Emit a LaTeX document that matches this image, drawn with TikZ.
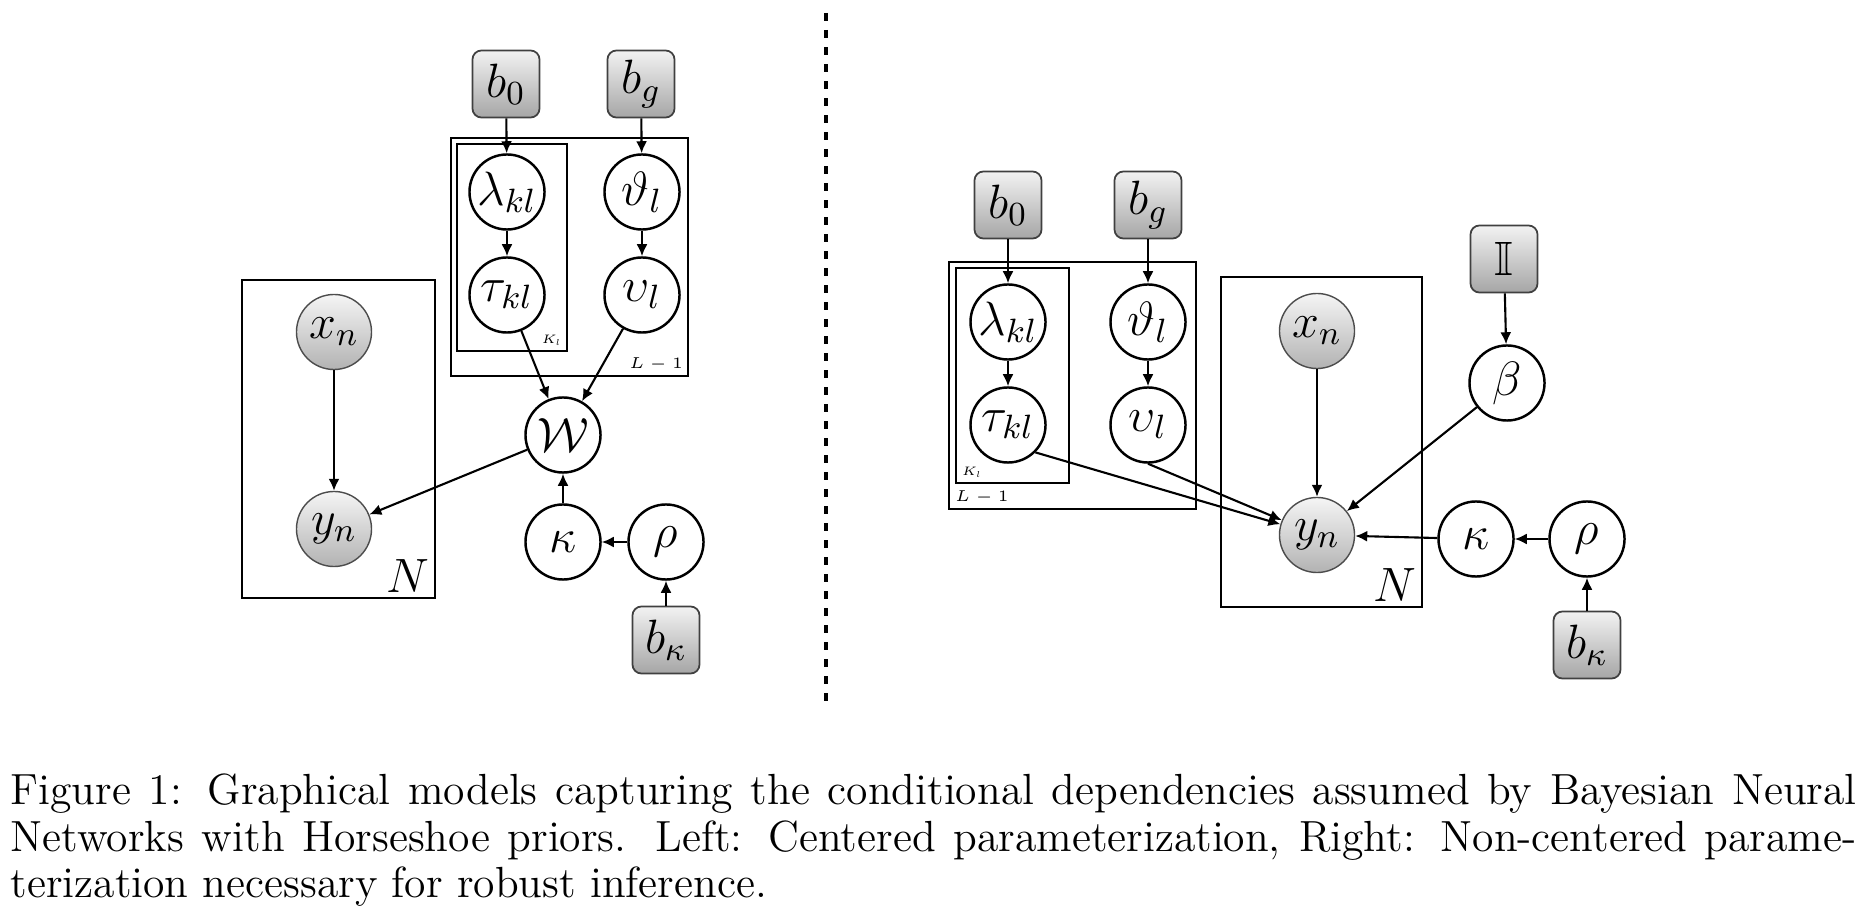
\RequirePackage{fix-cm}
\documentclass[tikz,border=0pt]{standalone}
\usepackage{amssymb}
\usetikzlibrary{arrows.meta}

\tikzset{
    latent/.style={circle, draw, line width=0.7pt, minimum size=7.5mm, inner sep=0pt},
    obs/.style={latent, draw=black!70, line width=0.4pt, top color=black!4, bottom color=black!30},
    hyper/.style={rectangle, rounded corners=0.9mm, draw=black!75, line width=0.5pt,
        minimum size=6.7mm, inner sep=0pt, top color=black!5, bottom color=black!35},
    plate/.style={draw, line width=0.8pt},
    platelab/.style={inner sep=1pt},
    edge/.style={-{Latex[length=1.2mm,width=1.1mm]}, line width=0.6pt},
}

\begin{document}
\begin{tikzpicture}[x=0.01cm, y=-0.01cm, font=\fontsize{13.7}{16}\selectfont]
    \useasboundingbox (0,0) rectangle (1870,910);

    % Dashed separator between the two models
    \draw[line width=1.4pt, dash pattern=on 0.8mm off 0.9mm] (826,13) -- (826,710);

    % Left: centered parameterization
    \draw[plate] (242,280) rectangle (435,598);
    \draw[plate] (451,138) rectangle (688,376);
    \draw[plate] (457,144) rectangle (567,351);
    \node[platelab, anchor=south east] (NL) at (434,597) {$N$};
    \node[platelab, anchor=south east, font=\fontsize{4.5}{5}\selectfont] (LL) at (687,375) {$L-1$};
    \node[platelab, anchor=south east, font=\fontsize{3.5}{4}\selectfont] (KL) at (566,350) {$K_l$};

    \foreach \name/\x/\y/\lab in {b0L/506/84/b_0, bgL/641/84/b_g, bkL/666/640/b_\kappa}
        \node[hyper] (\name) at (\x,\y) {$\lab$};
    \foreach \name/\x/\y/\lab in {lamL/507/192/\lambda_{kl}, tauL/507/295/\tau_{kl},
        thL/642/192/\vartheta_l, upL/642/295/\upsilon_l, WL/563/435/\mathcal{W},
        kapL/563/542/\kappa, rhoL/666/542/\rho}
        \node[latent] (\name) at (\x,\y) {$\lab$};
    \node[obs] (xL) at (334,332) {$x_n$};
    \node[obs] (yL) at (334,529) {$y_n$};

    \foreach \a/\b in {b0L/lamL, lamL/tauL, bgL/thL, thL/upL, tauL/WL, upL/WL,
        WL/yL, xL/yL, kapL/WL, rhoL/kapL, bkL/rhoL}
        \draw[edge] (\a) -- (\b);

    % Right: non-centered parameterization
    \draw[plate] (1221,277) rectangle (1422,607);
    \draw[plate] (949,262) rectangle (1196,509);
    \draw[plate] (956,268) rectangle (1069,483);
    \node[platelab, anchor=south east] (NR) at (1421,606) {$N$};
    \node[platelab, anchor=south west, font=\fontsize{4.5}{5}\selectfont] (LR) at (951,508) {$L-1$};
    \node[platelab, anchor=south west, font=\fontsize{3.5}{4}\selectfont] (KR) at (958,482) {$K_l$};

    \foreach \name/\x/\y/\lab in {b0R/1008/205/b_0, bgR/1148/205/b_g,
        IR/1504/259/\mathbb{I}, bkR/1587/645/b_\kappa}
        \node[hyper] (\name) at (\x,\y) {$\lab$};
    \foreach \name/\x/\y/\lab in {lamR/1008/322/\lambda_{kl}, tauR/1008/425/\tau_{kl},
        thR/1148/322/\vartheta_l, upR/1148/425/\upsilon_l, betaR/1507/383/\beta,
        kapR/1476/539/\kappa, rhoR/1587/539/\rho}
        \node[latent] (\name) at (\x,\y) {$\lab$};
    \node[obs] (xR) at (1317,331) {$x_n$};
    \node[obs] (yR) at (1317,535) {$y_n$};

    \foreach \a/\b in {b0R/lamR, lamR/tauR, bgR/thR, thR/upR, tauR.south east/yR,
        upR.south/yR, xR/yR, IR/betaR, betaR/yR, kapR/yR, rhoR/kapR, bkR/rhoR}
        \draw[edge] (\a) -- (\b);

    % Caption
    \node[anchor=north west, inner sep=0pt, text width=18.45cm, align=justify,
        font=\fontsize{12.4}{13.3}\selectfont] (caption) at (10,773)
        {\baselineskip=13.3pt
        Figure 1: Graphical models capturing the conditional dependencies assumed by Bayesian Neural\linebreak
        Networks with Horseshoe priors. Left: Centered parameterization, Right: Non-centered parame-\linebreak
        terization necessary for robust inference.\par};
\end{tikzpicture}
\end{document}
